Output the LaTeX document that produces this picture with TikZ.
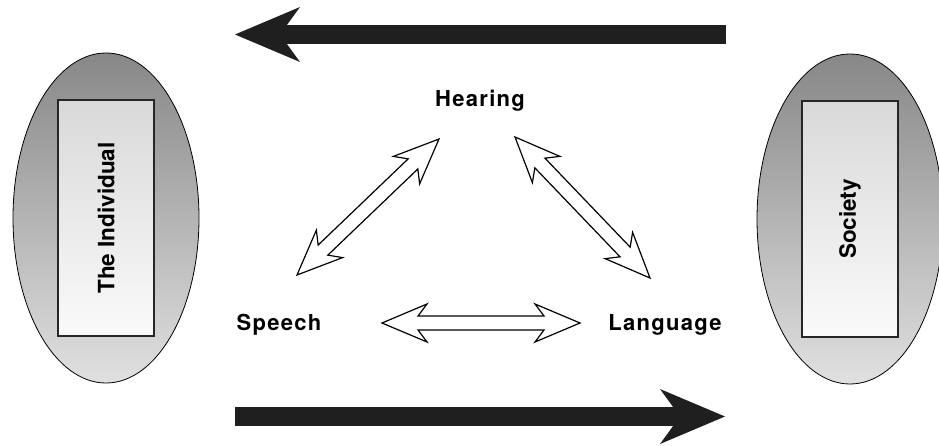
\documentclass[tikz,border=0pt]{standalone}
\usepackage{graphicx}
\usepackage{fontspec}
\setsansfont{TeX Gyre Heros}
\newfontfamily\labelfont{TeX Gyre Heros}[LetterSpace=6]
\usetikzlibrary{
arrows.meta,
calc,
positioning,
shapes
}
\tikzset{>=latex}

\begin{document}
\begin{tikzpicture}[x=1pt, y=1pt, font=\sffamily\bfseries,
	side/.style={
		ellipse,
		draw,
		line width=0.8pt,
		minimum width=186pt,
		minimum height=330pt,
		top color=black!47,
		bottom color=black!12
	},
	panel/.style={
		rectangle,
		draw=black!85,
		line width=1.2pt,
		minimum width=96pt,
		minimum height=236pt,
		top color=black!15,
		bottom color=black!2,
		font=\fontsize{22.5}{26}\sffamily\bfseries
	},
	term/.style={
		font=\fontsize{22}{26}\labelfont\bfseries
	},
	flow/.style={
		line width=19pt,
		-{Stealth[length=65pt,width=55pt,inset=20pt,line width=0pt]},
		black!88
	},
	hollowarrow/.style={
		draw,
		fill=white,
		line width=1.2pt,
		line join=miter,
		to path={
			(\tikztostart)
			-- ($(\tikztostart)!48.85pt!22.89:(\tikztotarget)$)
			-- ($(\tikztostart)!36.67pt!11:(\tikztotarget)$)
			-- ($(\tikztotarget)!36.67pt!-11:(\tikztostart)$)
			-- ($(\tikztotarget)!48.85pt!-22.89:(\tikztostart)$)
			-- (\tikztotarget)
			-- ($(\tikztotarget)!48.85pt!22.89:(\tikztostart)$)
			-- ($(\tikztotarget)!36.67pt!11:(\tikztostart)$)
			-- ($(\tikztostart)!36.67pt!-11:(\tikztotarget)$)
			-- ($(\tikztostart)!48.85pt!-22.89:(\tikztotarget)$)
			-- cycle
		}
	}]
		\useasboundingbox (0,0) rectangle (939,445);

		\node[side]                                                 (individual) at (106,227) {};
		\node[panel]                                                (individualbox) at (individual.center) {\rotatebox{90}{The Individual}};
		\node[side]                                                 (society) at (850,226) {};
		\node[panel]                                                (societybox) at (society.center) {\rotatebox{90}{Society}};

		\node[term]                                                 (hearing)  at (480,344) {Hearing};
		\node[term,below left=224pt and 201pt of hearing.center,anchor=center]  (speech)   {Speech};
		\node[term,below right=224pt and 185pt of hearing.center,anchor=center] (language) {Language};

		\coordinate (backstart) at (726,410.5);
		\coordinate (backend)   at (235,410.5);
		\coordinate (forthstart) at (235,28.5);
		\coordinate (forthend)   at (725,28.5);

		\draw[flow] (backstart)  -- (backend);
		\draw[flow] (forthstart) -- (forthend);

		\draw[hollowarrow] ([shift={(18,50)}]speech.center)   to ([shift={(-41,-38)}]hearing.center);
		\draw[hollowarrow] ([shift={(35,-36)}]hearing.center) to ([shift={(-15,47)}]language.center);
		\draw[hollowarrow] ([shift={(103,2)}]speech.center)   to ([shift={(-85,2)}]language.center);
	\end{tikzpicture}
\end{document}
